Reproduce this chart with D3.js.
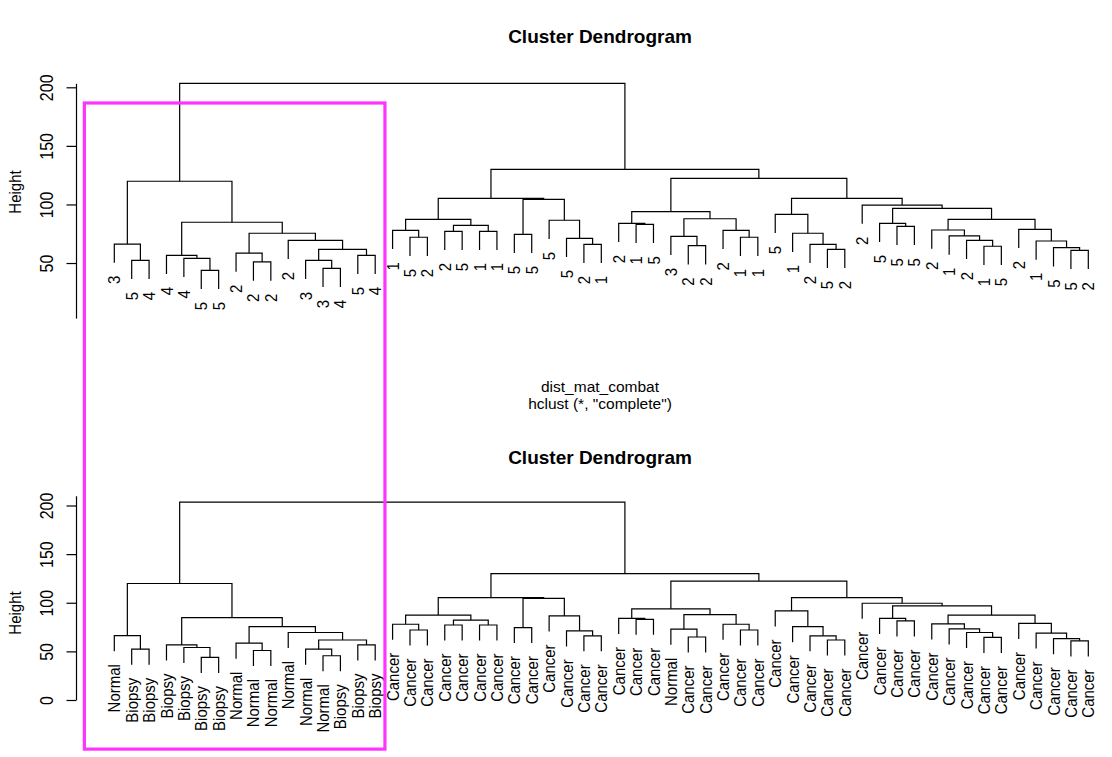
<!DOCTYPE html>
<html>
<head>
<meta charset="utf-8">
<script src="https://cdnjs.cloudflare.com/ajax/libs/d3/7.8.5/d3.min.js"></script>
<style>
body { margin: 0; background: #fff; }
svg text { font-family: "Liberation Sans", Arial, sans-serif; fill: #000; }
</style>
</head>
<body>
<div class="chart"></div>
<script>
// leaf labels, in plotting order (left to right)
var batchLabels = ['3','5','4','4','4','5','5','2','2','2','2','3','3','4','5','4',
  '1','5','2','2','5','1','1','5','5','5','5','2','1','2','1','5','3',
  '2','2','2','1','1','5','1','2','5','2','2','5','5','5','2','1','2','1','5','2','1','5','5','2'];

var typeLabels = ['Normal','Biopsy','Biopsy','Biopsy','Biopsy','Biopsy','Biopsy',
  'Normal','Normal','Normal','Normal','Normal','Normal','Biopsy','Biopsy','Biopsy',
  'Cancer','Cancer','Cancer','Cancer','Cancer','Cancer','Cancer','Cancer',
  'Cancer','Cancer','Cancer','Cancer','Cancer','Cancer','Cancer','Cancer','Normal',
  'Cancer','Cancer','Cancer','Cancer','Cancer','Cancer','Cancer','Cancer',
  'Cancer','Cancer','Cancer','Cancer','Cancer','Cancer','Cancer','Cancer',
  'Cancer','Cancer','Cancer','Cancer','Cancer','Cancer','Cancer','Cancer'];

// hclust style merge table: negative = leaf (plot position), positive = earlier row
var merges = [
  [-2,-3],[-1,1],[-6,-7],[-5,3],[-4,4],[-9,-10],[-8,6],[-13,-14],[-12,8],[-15,-16],
  [9,10],[-11,11],[7,12],[5,13],[2,14],
  [-18,-19],[-17,16],[-20,-21],[-22,-23],[18,19],[17,20],[-24,-25],[-28,-29],[-27,23],
  [-26,24],[22,25],[21,26],
  [-31,-32],[-30,28],[-34,-35],[-33,30],[-37,-38],[-36,32],[31,33],[29,34],
  [-42,-43],[-41,36],[-40,37],[-39,38],
  [-46,-47],[-45,40],[-51,-52],[-50,42],[-49,43],[-48,44],
  [-56,-57],[-55,46],[-54,47],[-53,48],[45,49],[41,50],[-44,51],[39,52],
  [35,53],[27,54],[15,55]
];
var heights = [
  52.3,66.2,43.8,54.0,56.6,50.9,58.5,45.5,52.3,56.6,
  61.7,69.4,75.4,84.8,119.8,
  72.0,77.9,77.1,77.1,82.2,87.3,74.5,66.0,71.1,
  86.5,104.4,105.2,
  83.0,83.9,64.8,72.8,72.0,77.9,87.8,93.8,
  61.7,66.0,75.4,91.6,
  81.3,83.9,64.3,69.4,73.1,78.2,
  60.8,63.1,68.8,78.8,87.3,96.7,99.5,105.2,
  122.3,130.0,203.4
];

var topTicks = [50, 100, 150, 200];
var bottomTicks = [0, 50, 100, 150, 200];
var topAxisExtent = [3, 203.4];
var bottomAxisExtent = [0, 210];
// highlighted region, in leaf positions / heights
var boxLeaves = [-0.72, 16.56];
var boxTopHeight = 186.6;
var boxBottomHeight = -50.5;

var width = 1112, height = 757;
var svg = d3.select('.chart').append('svg')
    .attr('width', width)
    .attr('height', height);

var x = d3.scaleLinear().domain([1, batchLabels.length]).range([114.3, 1088.3]);
var yTop = d3.scaleLinear().domain([0, 200]).range([321.6, 87.3]);
var yBottom = d3.scaleLinear().domain([0, 200]).range([700, 505.5]);

var hang = 0.1 * (d3.max(heights) - d3.min(heights));

// node positions
var nodeX = [];
merges.forEach(function(m, i){
    var xs = m.map(function(c){ return c < 0 ? x(-c) : nodeX[c - 1]; });
    nodeX[i] = (xs[0] + xs[1]) / 2;
});

function drawDendro(g, y, labels){
    var leafEnd = [];
    var paths = merges.map(function(m, i){
        var h = heights[i];
        var ends = m.map(function(c){
            if (c < 0) { leafEnd[-c] = h - hang; return { x: x(-c), y: y(h - hang) }; }
            return { x: nodeX[c - 1], y: y(heights[c - 1]) };
        });
        return 'M' + ends[0].x + ',' + ends[0].y + 'V' + y(h) + 'H' + ends[1].x + 'V' + ends[1].y;
    });

    g.selectAll('path.link')
        .data(paths)
        .enter()
        .append('path')
        .attr('class', 'link')
        .attr('d', function(d){ return d; })
        .attr('fill', 'none')
        .attr('stroke', '#000')
        .attr('stroke-width', 1.2);

    g.selectAll('text.leaf')
        .data(labels)
        .enter()
        .append('text')
        .attr('class', 'leaf')
        .attr('transform', function(d, i){
            return 'translate(' + x(i + 1) + ',' + (y(leafEnd[i + 1]) + 13) + ') rotate(-90) scale(1,1.12)';
        })
        .attr('text-anchor', 'end')
        .attr('dy', '0.36em')
        .attr('font-size', 15)
        .text(function(d){ return d; });
}

function drawAxis(y, ticks, extent){
    var ya = y.copy().domain(extent).range([y(extent[0]), y(extent[1])]);
    var ax = svg.append('g')
        .attr('transform', 'translate(76,0)')
        .call(d3.axisLeft(ya).tickValues(ticks).tickSize(9.5).tickSizeOuter(0));
    ax.selectAll('text')
        .attr('x', 0)
        .attr('y', -20.3)
        .attr('dy', 0)
        .attr('transform', 'rotate(-90) scale(1,1.12)')
        .attr('text-anchor', 'middle')
        .attr('font-size', 16)
        .attr('font-family', '"Liberation Sans", Arial, sans-serif');
    ax.selectAll('path, line').attr('stroke-width', 1.2);
}

// top dendrogram
svg.append('text')
    .attr('x', 600).attr('y', 43)
    .attr('text-anchor', 'middle')
    .attr('font-weight', 'bold')
    .attr('font-size', 19)
    .text('Cluster Dendrogram');
drawAxis(yTop, topTicks, topAxisExtent);
svg.append('text')
    .attr('transform', 'translate(20.7,192) rotate(-90) scale(1,1.12)')
    .attr('text-anchor', 'middle')
    .attr('font-size', 15)
    .text('Height');
drawDendro(svg.append('g'), yTop, batchLabels);
svg.append('text')
    .attr('x', 600).attr('y', 391.5)
    .attr('text-anchor', 'middle')
    .attr('font-size', 15.5)
    .text('dist_mat_combat');
svg.append('text')
    .attr('x', 600).attr('y', 409)
    .attr('text-anchor', 'middle')
    .attr('font-size', 15.5)
    .text('hclust (*, "complete")');

// bottom dendrogram
svg.append('text')
    .attr('x', 600).attr('y', 464)
    .attr('text-anchor', 'middle')
    .attr('font-weight', 'bold')
    .attr('font-size', 19)
    .text('Cluster Dendrogram');
drawAxis(yBottom, bottomTicks, bottomAxisExtent);
svg.append('text')
    .attr('transform', 'translate(20.7,613) rotate(-90) scale(1,1.12)')
    .attr('text-anchor', 'middle')
    .attr('font-size', 15)
    .text('Height');
drawDendro(svg.append('g'), yBottom, typeLabels);

// highlight box
svg.append('rect')
    .attr('x', x(boxLeaves[0]))
    .attr('y', yTop(boxTopHeight))
    .attr('width', x(boxLeaves[1]) - x(boxLeaves[0]))
    .attr('height', yBottom(boxBottomHeight) - yTop(boxTopHeight))
    .attr('fill', 'none')
    .attr('stroke', '#ff33ff')
    .attr('stroke-width', 3.2);
</script>
</body>
</html>
